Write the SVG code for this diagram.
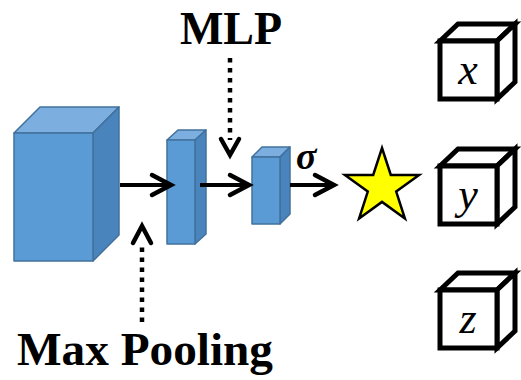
<svg xmlns="http://www.w3.org/2000/svg" width="521" height="380" viewBox="0 0 521 380">
  <defs>
    <style>
      .front { fill: #5B9BD5; stroke: #41719C; stroke-width: 1.5; stroke-linejoin: round; }
      .top { fill: #7CAFE0; stroke: #41719C; stroke-width: 1.5; stroke-linejoin: round; }
      .side { fill: #4A84BD; stroke: #41719C; stroke-width: 1.5; stroke-linejoin: round; }
      .box { fill: #FFFFFF; stroke: #000000; stroke-width: 5; stroke-linejoin: miter; }
      .flow { fill: none; stroke: #000000; stroke-width: 4; }
      .head { fill: none; stroke: #000000; stroke-width: 4.5; stroke-linecap: round; stroke-linejoin: miter; }
      .dots { fill: none; stroke: #000000; stroke-width: 4.5; stroke-dasharray: 4.5 5.5; }
      .label { font-family: "Liberation Serif", "Times New Roman", serif; font-weight: bold; fill: #000000; }
      .math { font-family: "Liberation Serif", "Times New Roman", serif; font-style: italic; font-size: 44px; fill: #000000; text-anchor: middle; }
    </style>
  </defs>

  <!-- feature volumes -->
  <g id="input-volume">
    <polygon class="top" points="14,133 40,107 119,107 93,133"/>
    <polygon class="side" points="93,133 119,107 119,235 93,261"/>
    <rect class="front" x="14" y="133" width="79" height="128"/>
  </g>
  <g id="pooled-volume">
    <polygon class="top" points="167,140 178,130 206,130 195,140"/>
    <polygon class="side" points="195,140 206,130 206,234 195,244"/>
    <rect class="front" x="167" y="140" width="28" height="104"/>
  </g>
  <g id="mlp-volume">
    <polygon class="top" points="252,157 262,147 290,147 280,157"/>
    <polygon class="side" points="280,157 290,147 290,214 280,224"/>
    <rect class="front" x="252" y="157" width="28" height="67"/>
  </g>

  <!-- output point -->
  <g id="output-star">
    <polygon points="382,148 390.8,175 419.1,175 396.2,191.6 404.9,218.5 382,201.9 359.1,218.5 367.8,191.6 344.9,175 373.2,175" fill="#FFFF00" stroke="#000000" stroke-width="2.5" stroke-linejoin="miter"/>
  </g>

  <!-- coordinate boxes -->
  <g id="coord-x">
    <polygon class="box" points="440,41 458,24 515,24 497,41"/>
    <polygon class="box" points="497,41 515,24 515,82 497,99"/>
    <rect class="box" x="440" y="41" width="57" height="58"/>
    <text class="math" x="468" y="84">x</text>
  </g>
  <g id="coord-y">
    <polygon class="box" points="440,166 458,149 515,149 497,166"/>
    <polygon class="box" points="497,166 515,149 515,207 497,224"/>
    <rect class="box" x="440" y="166" width="57" height="58"/>
    <text class="math" x="468" y="209">y</text>
  </g>
  <g id="coord-z">
    <polygon class="box" points="440,290 458,273 515,273 497,290"/>
    <polygon class="box" points="497,290 515,273 515,331 497,348"/>
    <rect class="box" x="440" y="290" width="57" height="58"/>
    <text class="math" x="468" y="333">z</text>
  </g>

  <!-- connectors -->
  <g id="connectors">
    <line class="flow" x1="120" y1="185" x2="170" y2="185"/>
    <polyline class="head" points="152,175 171,185 152,195"/>
    <line class="flow" x1="200" y1="185" x2="248" y2="185"/>
    <polyline class="head" points="230,175 249,185 230,195"/>
    <line class="flow" x1="290" y1="185" x2="333" y2="185"/>
    <polyline class="head" points="315,175 334,185 315,195"/>
    <text class="label" x="296" y="169" font-size="38" font-style="italic">σ</text>

    <line class="dots" x1="230" y1="58" x2="230" y2="140"/>
    <polyline class="head" points="221,139 230,155 239,139"/>

    <line class="dots" x1="142" y1="322" x2="142" y2="242"/>
    <polyline class="head" points="133,243 142,226 151,243"/>
  </g>

  <!-- captions -->
  <g id="captions">
    <text class="label" x="231" y="44" font-size="46" text-anchor="middle">MLP</text>
    <text class="label" x="17" y="365" font-size="46" textLength="256" lengthAdjust="spacingAndGlyphs">Max Pooling</text>
  </g>
</svg>
